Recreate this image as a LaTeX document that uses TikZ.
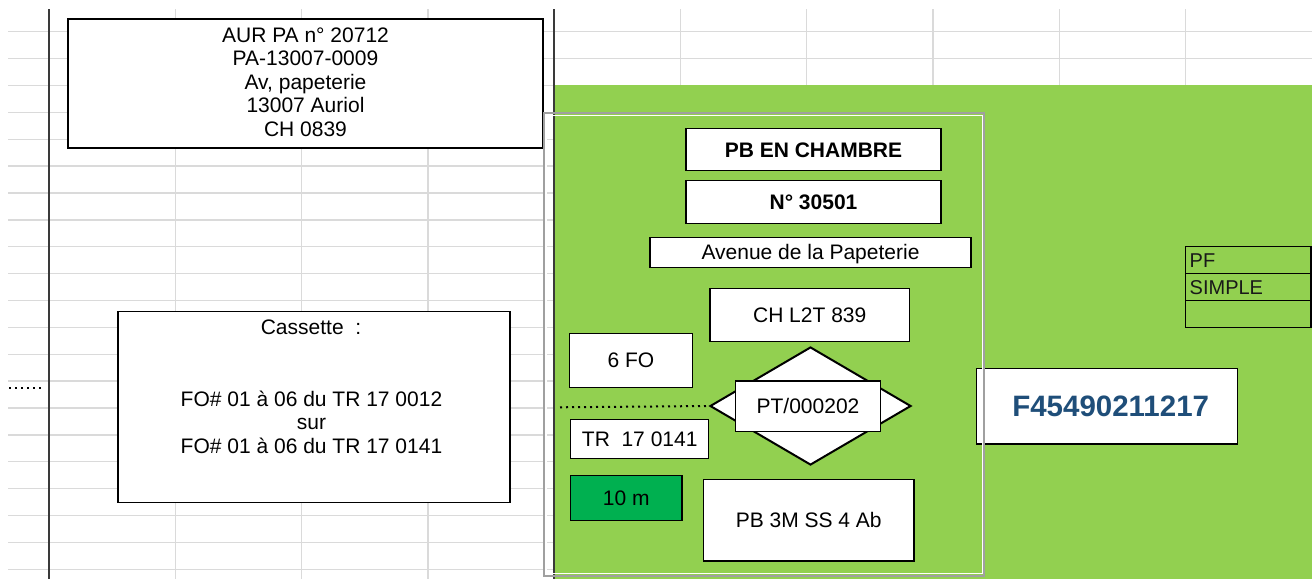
\documentclass[tikz,border=0pt]{standalone}
\usepackage{fontspec}
\setmainfont{Liberation Sans}
\usetikzlibrary{shapes.geometric}
\definecolor{xlgreen}{HTML}{92D050}
\definecolor{xdgreen}{HTML}{00B050}
\definecolor{gridc}{HTML}{DADADA}
\definecolor{colline}{HTML}{3A3A3A}
\definecolor{framec}{HTML}{A0A0A0}
\definecolor{fblue}{HTML}{1F4E79}
\newcommand\fsA{\fontsize{21}{23.5}\selectfont}
\begin{document}
\begin{tikzpicture}[x=1pt,y=-1pt,
  gridline/.style={gridc, line width=1.3pt},
  colsep/.style={colline, line width=2pt},
  box/.style={draw=black, fill=white, line width=1.5pt, inner sep=0pt, font=\fsA, text=black, text height=15pt, text depth=0pt},
  txt/.style={inner sep=0pt, font=\fsA, text=black},
  dotline/.style={black, line width=2pt, dash pattern=on 2pt off 4pt},
  cell/.style={draw=black, line width=1.3pt, minimum width=125.3pt, minimum height=27pt, inner xsep=4pt, inner ysep=0pt, text width=117.3pt, align=left, font=\fontsize{20}{22}\selectfont, text=black!90, text height=14.3pt, text depth=0pt}
]
\useasboundingbox (0,0) rectangle (1312,579);
\fill[white] (0,0) rectangle (1312,579);
% spreadsheet grid
\foreach \k in {0,...,20} \draw[gridline] (8,{31.7+26.88*\k}) -- (1312,{31.7+26.88*\k});
\foreach \x in {175.3,301.6,428,680.5,806.8,933,1059.4,1185.7} \draw[gridline] (\x,9) -- (\x,579);
% green area
\fill[xlgreen] (554,85) rectangle (1312,579);
% column separators
\draw[colsep] (49,9) -- (49,579);
\draw[colsep] (554,9) -- (554,579);

% address box
\node[box, minimum width=475pt, minimum height=129pt] (addr) at (305.5,83.5) {};
\node[txt, align=center] (addrtxt) at (305.5,82) {AUR PA n° 20712\\PA-13007-0009\\Av, papeterie\\13007 Auriol\\CH 0839};

% cassette box
\node[box, minimum width=392pt, minimum height=191pt] (cass) at (314,407.2) {};
\node[txt, text height=15pt, text depth=0pt] (casstitle) at (311,326.7) {Cassette\ \ :};
\node[txt, align=center] (casstxt) at (311.5,422) {FO\# 01 à 06 du TR 17 0012\\sur\\FO\# 01 à 06 du TR 17 0141};

% left dotted stub
\coordinate (ld1) at (9,388.3);
\coordinate (ld2) at (44,388.3);
\draw[dotline] (ld1) -- (ld2);

% green area boxes
\node[box, font=\fsA\bfseries, minimum width=255pt, minimum height=42.4pt] (pbch) at (813.5,149.5) {PB EN CHAMBRE};
\node[box, font=\fsA\bfseries, minimum width=255pt, minimum height=42.6pt] (num) at (813.5,202) {N° 30501};
\node[box, minimum width=321pt, minimum height=30pt] (ave) at (810.5,252.3) {Avenue de la Papeterie};
\node[box, minimum width=199.3pt, minimum height=53.4pt] (chl) at (809.7,315) {CH L2T 839};
\node[box, minimum width=123.4pt, minimum height=54pt] (sixfo) at (631,360.3) {6 FO};
\node[diamond, draw=black, fill=white, line width=2pt, minimum width=201pt, minimum height=118pt, inner sep=0pt] (dia) at (810.5,406) {};
\node[box, minimum width=145.4pt, minimum height=50.7pt] (pt) at (808,406.3) {PT/000202};
\node[box, minimum width=138pt, minimum height=39.4pt] (tr) at (639.7,439) {TR\ \ 17 0141};
\node[box, fill=xdgreen, minimum width=111.3pt, minimum height=45pt] (tenm) at (626.3,498.2) {10 m};
\node[box, minimum width=210.7pt, minimum height=81.7pt] (pb3m) at (808.7,520.2) {PB 3M SS 4 Ab};
\coordinate (dl) at (560,407.3);
\draw[dotline] (dl) -- (dia.west);

% F number box
\node[box, font=\fontsize{29.5}{32}\selectfont\bfseries, text=fblue, text height=21.2pt, minimum width=261pt, minimum height=75.7pt] (fnum) at (1107.2,406.2) {\hspace{7pt}F45490211217};

% frame
\draw[framec, line width=2pt] (544,113.3) rectangle (984.3,575.5);
\draw[white, line width=1.2pt] (546,115.3) rectangle (982.3,573.5);

% PF table
\node[cell] (pf) at (1248.35,260.2) {PF};
\node[cell] (simple) at (1248.35,287.2) {SIMPLE};
\node[cell] (empty) at (1248.35,314.1) {};
\end{tikzpicture}
\end{document}
